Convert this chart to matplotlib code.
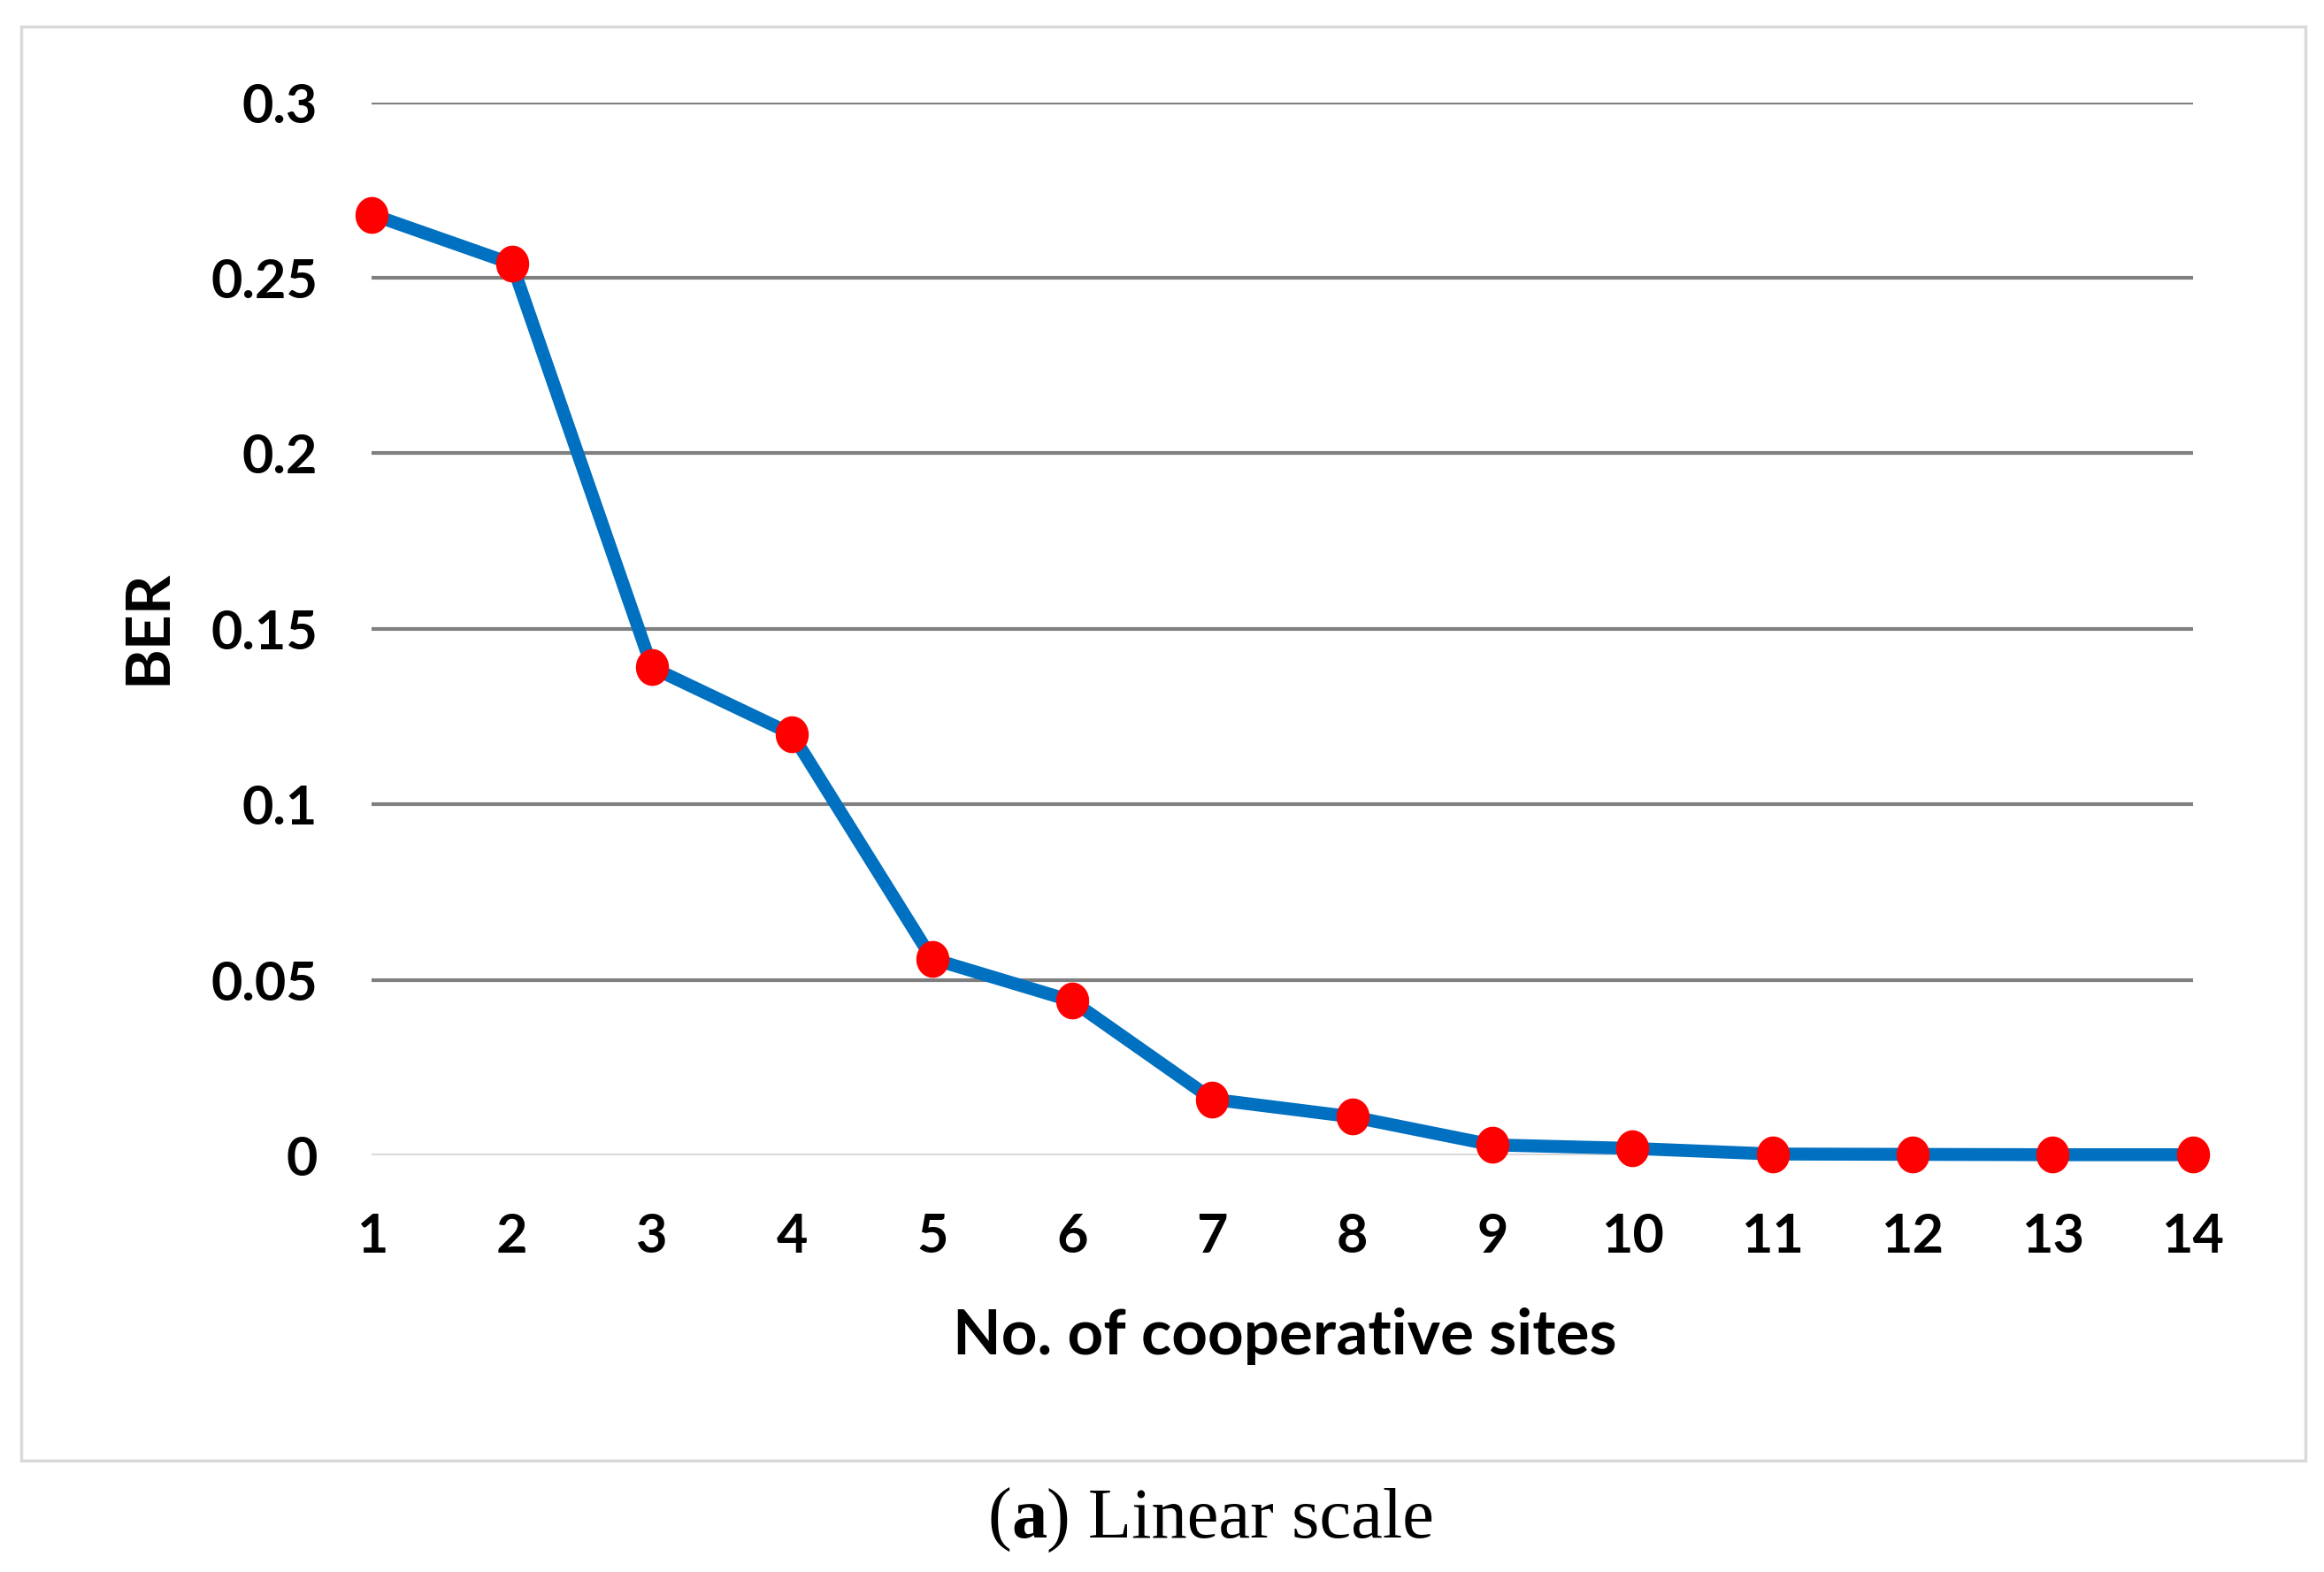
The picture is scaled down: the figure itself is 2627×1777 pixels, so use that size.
import numpy as np
import matplotlib
matplotlib.use("Agg")
import matplotlib.pyplot as plt
from matplotlib.path import Path
from matplotlib.patches import Rectangle

sites = [1, 2, 3, 4, 5, 6, 7, 8, 9, 10, 11, 12, 13, 14]
ber = [0.268, 0.254, 0.139, 0.120, 0.056, 0.044, 0.016, 0.011,
       0.003, 0.002, 0.0004, 0.0003, 0.0002, 0.0002]
yticks = [0, 0.05, 0.1, 0.15, 0.2, 0.25, 0.3]
ytick_labels = ["0", "0.05", "0.1", "0.15", "0.2", "0.25", "0.3"]

fig = plt.figure(figsize=(26.27, 17.77), dpi=100)
ax = fig.add_axes([0.160, 0.265, 0.7835, 0.670])

# outer frame
fig.patches.append(Rectangle((0.009, 0.071), 0.983, 0.912, transform=fig.transFigure,
                             fill=False, edgecolor="#d9d9d9", linewidth=2.5))

# grid lines
for v in yticks:
    if v == 0:
        ax.axhline(v, color="#d9d9d9", linewidth=3, zorder=1)
    else:
        ax.axhline(v, color="#7f7f7f", linewidth=3, zorder=1)

# slightly tall ellipse marker
t = np.linspace(0, 2 * np.pi, 60)
ell = Path(np.column_stack([np.cos(t), 1.12 * np.sin(t)]), closed=True)

ax.plot(sites, ber, color="#0070C0", linewidth=10.5, solid_joinstyle="round",
        marker=ell, markersize=29, markerfacecolor="#ff0000", markeredgecolor="#ff0000",
        clip_on=False, zorder=3)

ax.set_xlim(1, 14)
ax.set_ylim(0, 0.3)
ax.set_xticks(sites)
ax.set_yticks(yticks)
ax.set_yticklabels(ytick_labels)
for s in ax.spines.values():
    s.set_visible(False)
ax.tick_params(axis="both", length=0, labelsize=44)
ax.tick_params(axis="x", pad=46)
ax.tick_params(axis="y", pad=44)
for lab in ax.get_xticklabels() + ax.get_yticklabels():
    lab.set_fontweight("bold")
    lab.set_fontfamily("Lato")

fig.text(0.553, 0.150, "No. of cooperative sites", fontsize=51, fontweight="bold",
         family="Lato", ha="center", va="center")
fig.text(0.064, 0.601, "BER", fontsize=50, fontweight="bold", family="Lato",
         rotation=90, ha="center", va="center")

# caption "(a) Linear scale" with bold a
fig.canvas.draw()
r = fig.canvas.get_renderer()
parts = [("(", "normal"), ("a", "bold"), (") Linear scale", "normal")]
texts = []
for s, w in parts:
    texts.append(fig.text(0, 0.033, s, fontsize=58, fontweight=w,
                          family="Liberation Serif", ha="left", va="center"))
widths = [tx.get_window_extent(r).width for tx in texts]
total = sum(widths)
x0 = 0.521 * fig.bbox.width - total / 2
for tx, wd in zip(texts, widths):
    tx.set_x(x0 / fig.bbox.width)
    x0 += wd

fig.savefig("out.png", dpi=100)
